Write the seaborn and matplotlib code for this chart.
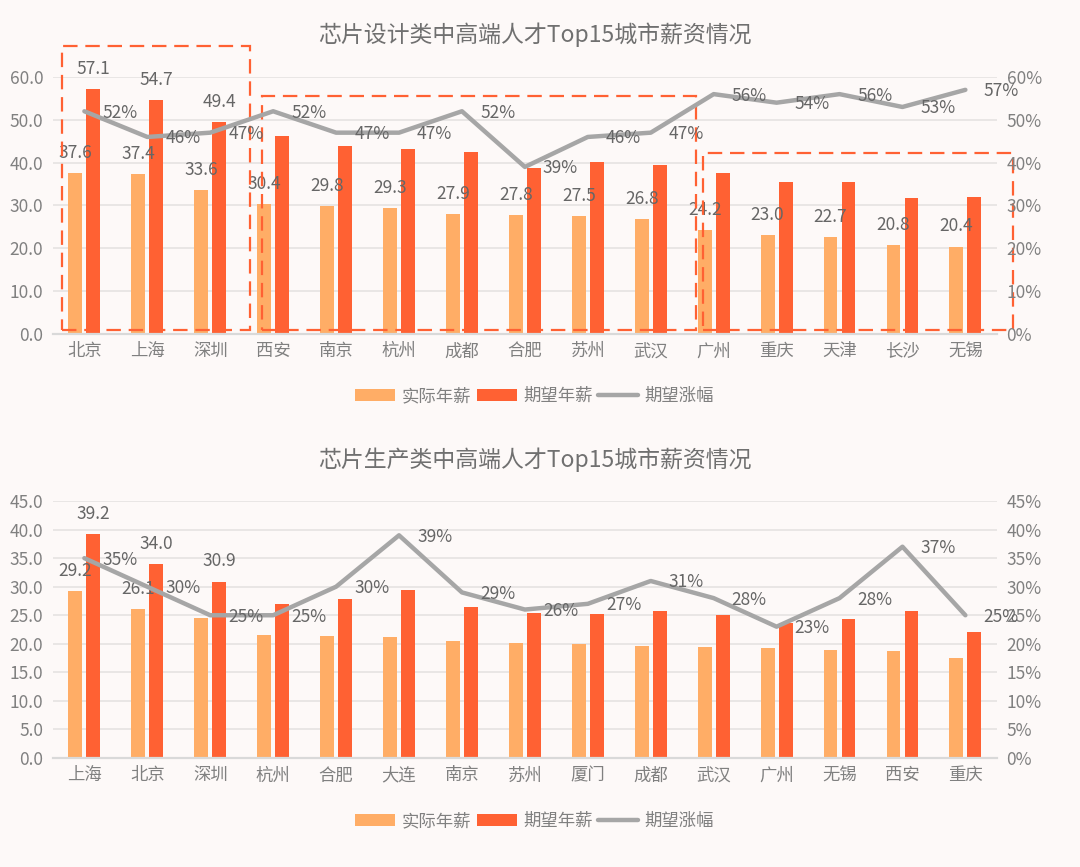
import numpy as np
import pandas as pd
import seaborn as sns
import matplotlib
import matplotlib.pyplot as plt
from matplotlib.patches import Rectangle
from matplotlib.ticker import FuncFormatter

matplotlib.use('agg')

# 芯片设计类
design_cities = ['北京', '上海', '深圳', '西安', '南京', '杭州', '成都', '合肥',
                 '苏州', '武汉', '广州', '重庆', '天津', '长沙', '无锡']
design_actual = [37.6, 37.4, 33.6, 30.4, 29.8, 29.3, 27.9, 27.8, 27.5, 26.8,
                 24.2, 23.0, 22.7, 20.8, 20.4]
design_expect = [57.1, 54.7, 49.4, 46.2, 43.8, 43.1, 42.4, 38.7, 40.1, 39.4,
                 37.7, 35.4, 35.4, 31.8, 32.0]
design_growth = [52, 46, 47, 52, 47, 47, 52, 39, 46, 47, 56, 54, 56, 53, 57]

# 芯片生产类
prod_cities = ['上海', '北京', '深圳', '杭州', '合肥', '大连', '南京', '苏州',
               '厦门', '成都', '武汉', '广州', '无锡', '西安', '重庆']
prod_actual = [29.2, 26.1, 24.6, 21.6, 21.4, 21.2, 20.5, 20.1, 19.9, 19.6,
               19.5, 19.3, 19.0, 18.8, 17.6]
prod_expect = [39.2, 34.0, 30.9, 27.0, 27.8, 29.5, 26.4, 25.4, 25.3, 25.7,
               25.0, 23.7, 24.3, 25.8, 22.0]
prod_growth = [35, 30, 25, 25, 30, 39, 29, 26, 27, 31, 28, 23, 28, 37, 25]

series_names = ['实际年薪', '期望年薪', '期望涨幅']
bar_colors = ['#FFAD66', '#FF6133']
line_color = '#A6A6A6'
bg = '#FDF9F8'
tick_gray = '#808080'
label_gray = '#666666'

sns.set_style('white')
plt.rcParams['font.family'] = ['Noto Sans CJK SC', 'DejaVu Sans']

fig = plt.figure(figsize=(10.8, 8.67), dpi=100, facecolor=bg)


def draw_panel(rect, title, title_y, cities, actual, expect, growth,
               ymax, ystep, pmax, pstep, actual_show, expect_show, legend_y):
    ax = fig.add_axes(rect)
    ax.set_facecolor(bg)
    df = pd.DataFrame({
        'city': cities * 2,
        'value': actual + expect,
        'kind': [series_names[0]] * len(cities) + [series_names[1]] * len(cities),
    })
    sns.barplot(data=df, x='city', y='value', hue='kind', palette=bar_colors,
                saturation=1, width=0.572, gap=0.23, linewidth=0, ax=ax,
                legend=True)
    ax.legend_.remove()
    ax.set_xlim(-0.5, len(cities) - 0.5)
    ax.set_ylim(0, ymax)
    ax.set_yticks(np.arange(0, ymax + 0.01, ystep))
    ax.yaxis.set_major_formatter(FuncFormatter(lambda v, p: f'{v:.1f}'))
    ax.set_xlabel('')
    ax.set_ylabel('')
    ax.grid(axis='y', color='#E3E1E0', linewidth=1.1)
    ax.set_axisbelow(True)
    for s in ['top', 'right', 'left']:
        ax.spines[s].set_visible(False)
    ax.spines['bottom'].set_color('#D9D9D9')
    ax.spines['bottom'].set_linewidth(1.6)
    ax.tick_params(axis='both', length=0, colors=tick_gray, labelsize=12.5)
    ax.tick_params(axis='x', pad=6)
    ax.tick_params(axis='y', pad=7)

    # data labels
    a_labels = [f'{v:.1f}' if show else '' for v, show in zip(actual, actual_show)]
    e_labels = [f'{v:.1f}' if show else '' for v, show in zip(expect, expect_show)]
    ax.bar_label(ax.containers[0], labels=a_labels, padding=8, color=label_gray,
                 fontsize=12.5)
    ax.bar_label(ax.containers[1], labels=e_labels, padding=8, color=label_gray,
                 fontsize=12.5)

    ax2 = ax.twinx()
    xs = np.arange(len(cities))
    gvals = np.array(growth) / 100
    sns.lineplot(x=xs, y=gvals, color=line_color, linewidth=3.2, ax=ax2,
                 label=series_names[2], legend=False)
    ax2.set_ylim(0, pmax)
    ax2.set_yticks(np.arange(0, pmax + 0.001, pstep))
    ax2.yaxis.set_major_formatter(FuncFormatter(lambda v, p: f'{v * 100:.0f}%'))
    ax2.set_ylabel('')
    for s in ax2.spines.values():
        s.set_visible(False)
    ax2.tick_params(axis='y', length=0, colors=tick_gray, labelsize=12.5, pad=7)
    for x, g in zip(xs, growth):
        ax2.annotate(f'{g}%', (x, g / 100), xytext=(13, -1),
                     textcoords='offset points', ha='left', va='center',
                     color=label_gray, fontsize=12.5)

    fig.text(0.495, title_y, title, ha='center', va='center', fontsize=16.5,
             color='#707070')

    h1, l1 = ax.get_legend_handles_labels()
    h2, l2 = ax2.get_legend_handles_labels()
    fig.legend(h1 + h2, l1 + l2, loc='center', bbox_to_anchor=(0.495, legend_y),
               ncol=3, frameon=False, fontsize=12.5, labelcolor=tick_gray,
               handlelength=2.3, handleheight=0.7, handletextpad=0.35,
               columnspacing=0.35)
    return ax


ax_top = draw_panel([0.049, 0.6148, 0.874, 0.2964],
                    '芯片设计类中高端人才Top15城市薪资情况', 0.9596,
                    design_cities, design_actual, design_expect, design_growth,
                    60, 10, 0.6, 0.1,
                    [True] * 15, [True] * 3 + [False] * 12, 0.543)

# dashed highlight boxes (city groups)
for x0, x1, y1 in [(-0.36, 2.63, 67.2), (2.82, 9.72, 55.6), (9.83, 14.76, 42.3)]:
    ax_top.add_patch(Rectangle((x0, 1.0), x1 - x0, y1 - 1.0, fill=False,
                               edgecolor='#FF6133', linewidth=1.6,
                               linestyle=(0, (6.5, 3.5)), clip_on=False, zorder=10))

draw_panel([0.049, 0.1257, 0.874, 0.2964],
           '芯片生产类中高端人才Top15城市薪资情况', 0.4694,
           prod_cities, prod_actual, prod_expect, prod_growth,
           45, 5, 0.45, 0.05,
           [True] * 2 + [False] * 13, [True] * 3 + [False] * 12, 0.053)

fig.savefig('out.png', dpi=100, facecolor=bg)
